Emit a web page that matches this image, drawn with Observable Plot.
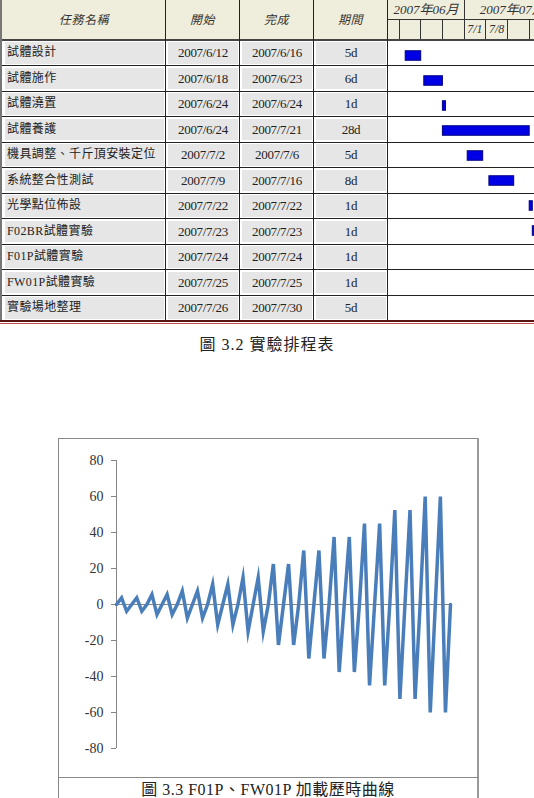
<!DOCTYPE html>
<html><head><meta charset="utf-8">
<script src="https://cdn.jsdelivr.net/npm/d3@7"></script>
<script src="https://cdn.jsdelivr.net/npm/@observablehq/plot@0.6"></script>
<style>
html,body{margin:0;padding:0;background:#fff;}
#root{position:relative;width:534px;height:798px;overflow:hidden;font-family:"Liberation Serif","Noto Sans CJK TC",serif;color:#222;}
#root div{box-sizing:border-box;white-space:nowrap;}
</style></head><body>
<div id="root"></div>
<script>
// ---- data ----
const tasks = ["試體設計","試體施作","試體澆置","試體養護","機具調整、千斤頂安裝定位","系統整合性測試","光學點位佈設","F02BR試體實驗","F01P試體實驗","FW01P試體實驗","實驗場地整理"];
const starts = ["2007/6/12","2007/6/18","2007/6/24","2007/6/24","2007/7/2","2007/7/9","2007/7/22","2007/7/23","2007/7/24","2007/7/25","2007/7/26"];
const ends = ["2007/6/16","2007/6/23","2007/6/24","2007/7/21","2007/7/6","2007/7/16","2007/7/22","2007/7/23","2007/7/24","2007/7/25","2007/7/30"];
const durations = ["5d","6d","1d","28d","5d","8d","1d","1d","1d","1d","5d"];
const headers = ["任務名稱","開始","完成","期間"];
const months = ["2007年06月","2007年07月"];
const monthStarts = ["2007-07-01","2007-08-01"];
const weekStarts = ["2007-06-10","2007-06-17","2007-06-24","2007-07-01","2007-07-08","2007-07-15","2007-07-22","2007-07-29"];
const weekLabels = ["","","","7/1","7/8","","",""];
const caption1 = "圖 3.2 實驗排程表";
const caption2 = "圖 3.3 F01P、FW01P 加載歷時曲線";
const loads = [0,3.75,-3.75,0,3.75,-3.75,0,5.6,-5.6,0,5.6,-5.6,0,7.5,-7.5,0,7.5,-7.5,0,11.25,-11.25,0,11.25,-11.25,0,15,-15,0,15,-15,0,22.5,-22.5,0,22.5,-22.5,0,30,-30,0,30,-30,0,37.5,-37.5,0,37.5,-37.5,0,45,-45,0,45,-45,0,52.5,-52.5,0,52.5,-52.5,0,60,-60,0,60,-60,0];
const yTicks = [-80,-60,-40,-20,0,20,40,60,80];

// ---- helpers ----
const root = document.getElementById("root");
function box(l,t,w,h,css,txt){const d=document.createElement("div");d.style.cssText=`position:absolute;left:${l}px;top:${t}px;width:${w}px;height:${h}px;${css||""}`;if(txt!=null)d.textContent=txt;root.appendChild(d);return d;}
const utc = s => { const [y,m,d] = s.split(/[\/-]/).map(Number); return new Date(Date.UTC(y,m-1,d)); };
const DAY = 864e5;

// ---- table layout ----
const rowH = 25.5, top0 = 40, nRows = tasks.length, tableBottom = top0 + nRows*rowH;
const colL = [3,166,240,314], colR = [165,239,313,387], ganttL = 388, ganttW = 300;

// header background
box(2,0,700,40,"background:#efeddc;");
// body cells
for (let i=0;i<nRows;i++){
  const t = top0 + i*rowH;
  const vals = [tasks[i], starts[i], ends[i], durations[i]];
  for (let c=0;c<4;c++){
    const d = box(colL[c]+2, t+2, colR[c]-colL[c]-3, rowH-4, `background:#e6e6e6;line-height:${rowH-4}px;font-size:${c===0?12:13}px;letter-spacing:${c===0?0.4:-0.3}px;${c===0?"text-align:left;padding-left:2px;":"text-align:center;"}`, vals[c]);
  }
}
// header labels
for (let c=0;c<4;c++) box(colL[c], 0, colR[c]-colL[c], 40, "text-align:center;line-height:40px;font-size:12px;font-style:italic;letter-spacing:0.6px;color:#333;", headers[c]);

// ---- gantt bars ----
const pxPerDay = 3.1;
const x0 = new Date(utc("2007/6/10").getTime() - (399-ganttL)/pxPerDay*DAY);
const x1 = new Date(x0.getTime() + ganttW/pxPerDay*DAY);
const rows = tasks.map((t,i)=>({task:t, start:utc(starts[i]), end:new Date(utc(ends[i]).getTime()+DAY)}));
const gantt = Plot.plot({
  width: ganttW, height: nRows*rowH, margin: 0,
  x: {type:"utc", domain:[x0,x1], range:[0,ganttW], axis:null},
  y: {domain:tasks, padding:0, axis:null},
  style: {background:"transparent", overflow:"visible"},
  marks: [Plot.barX(rows, {x1:"start", x2:"end", y:"task", fill:"#0000e6", stroke:"#000080", strokeWidth:1, insetTop:7.75, insetBottom:7.75})]
});
const xs = gantt.scale("x");
// gantt header
box(ganttL,0,700-ganttL,40,"background:#efeddc;");
box(ganttL,18.5,700-ganttL,1,"background:#333;");
const mBounds = [ganttL, ...monthStarts.map(s=>ganttL+xs.apply(utc(s)))];
months.forEach((m,i)=>{
  box(mBounds[i],0,mBounds[i+1]-mBounds[i],19,"text-align:center;line-height:20px;font-size:13px;font-style:italic;color:#333;",m);
});
box(mBounds[1]-0.5,0,1,40,"background:#333;");
weekStarts.forEach((w,i)=>{
  const a = ganttL+xs.apply(utc(w)), b = ganttL+xs.apply(new Date(utc(w).getTime()+7*DAY));
  box(a-0.5,19,1,21,"background:#333;");
  if (weekLabels[i]) box(a,19,b-a,21,"text-align:center;line-height:21px;font-size:12px;font-style:italic;color:#333;",weekLabels[i]);
});
const gDiv = box(ganttL, top0, ganttW, nRows*rowH, "");
gDiv.appendChild(gantt);

// grid lines
box(0,39,700,2,"background:#444;");
for (let i=1;i<nRows;i++) box(0, top0+i*rowH-0.5, 700, 1, "background:#222;");
[165,239,313,387].forEach(x=>box(x,0,1,tableBottom,"background:#222;"));
box(0,0,2,tableBottom,"background:#777;");
box(0,tableBottom-0.5,700,2,"background:#5a1414;");
box(0,tableBottom+2,700,1.5,"background:#c0504d;");

// caption 1
box(0,334,534,22,"text-align:center;line-height:22px;font-size:16px;letter-spacing:1px;color:#222;",caption1);

// ---- line chart ----
const chart = Plot.plot({
  width: 420, height: 339,
  marginLeft: 58, marginRight: 28, marginTop: 22, marginBottom: 29,
  x: {domain:[0, loads.length-1], axis:null},
  y: {domain:[-80,80], axis:null},
  style: {background:"transparent", fontFamily:"Liberation Serif", fontSize:"14px"},
  marks: [
    Plot.ruleY([0], {stroke:"#868686", strokeWidth:1}),
    Plot.ruleX([0], {stroke:"#868686", strokeWidth:1}),
    Plot.axisY({ticks:yTicks, tickFormat:d=>String(d), tickSize:5, tickPadding:8, stroke:"#868686", fill:"#333", label:null, fontSize:14}),
    Plot.line(loads, {x:(d,i)=>i, y:d=>d, stroke:"#4a7ebb", strokeWidth:3.5, strokeLinejoin:"miter", strokeMiterlimit:10})
  ]
});
const cDiv = box(58,438,420,339,"");
cDiv.appendChild(chart);
// chart frame
box(58,438,420,1,"background:#888;");
box(58,438,1,400,"background:#888;");
box(477,438,1.5,400,"background:#999;");
box(58,777,420,1,"background:#888;");
box(58,778,420,22,"text-align:center;line-height:24px;font-size:16px;letter-spacing:0.5px;color:#222;",caption2);
</script>
</body></html>
